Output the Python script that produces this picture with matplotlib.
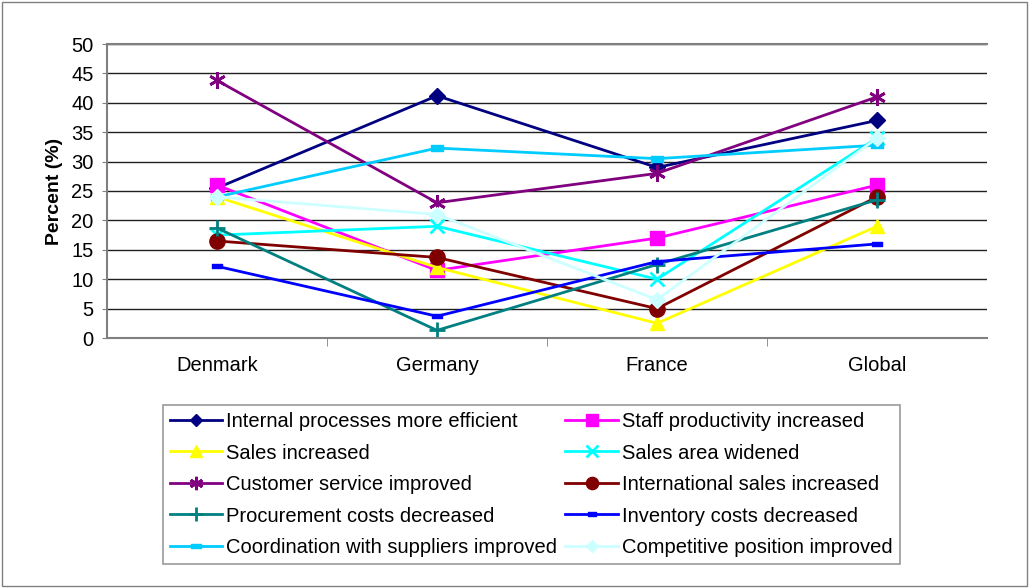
import numpy as np
import matplotlib.pyplot as plt
from matplotlib.patches import Rectangle
from matplotlib.path import Path

plt.rcParams['font.family'] = ['Liberation Sans', 'DejaVu Sans']

countries = ['Denmark', 'Germany', 'France', 'Global']

internal = [25.5, 41.2, 29.0, 37.0]
staff = [26.0, 11.5, 17.0, 26.0]
sales = [24.0, 12.0, 2.5, 19.0]
area = [17.5, 19.0, 10.0, 34.0]
customer = [43.8, 23.0, 28.0, 41.0]
international = [16.5, 13.7, 5.0, 24.0]
procurement = [18.7, 1.3, 12.5, 23.5]
inventory = [12.2, 3.7, 13.0, 16.0]
coordination = [24.0, 32.3, 30.5, 32.8]
competitive = [24.0, 21.0, 6.5, 34.0]

# flat rectangle marker like the Excel "dash" marker
dash = Path([(-1, -0.45), (1, -0.45), (1, 0.45), (-1, 0.45), (-1, -0.45)], closed=True)

series = [
    ('Internal processes more efficient', internal, '#000080', 'D', 8),
    ('Staff productivity increased', staff, '#FF00FF', 's', 10),
    ('Sales increased', sales, '#FFFF00', '^', 10),
    ('Sales area widened', area, '#00FFFF', 'x', 10),
    ('Customer service improved', customer, '#800080', (6, 2, 0), 12),
    ('International sales increased', international, '#800000', 'o', 11),
    ('Procurement costs decreased', procurement, '#008080', '+', 12),
    ('Inventory costs decreased', inventory, '#0000FF', dash, 7),
    ('Coordination with suppliers improved', coordination, '#00CCFF', dash, 9),
    ('Competitive position improved', competitive, '#CCFFFF', 'D', 8),
]

fig = plt.figure(figsize=(10.31, 5.88), dpi=100)
fig.patches.append(Rectangle((0.002, 0.004), 0.994, 0.993, transform=fig.transFigure,
                             fill=False, edgecolor='#808080', linewidth=1))
ax = fig.add_axes([107 / 1031, 1 - 338 / 588, 880 / 1031, 294 / 588])

x = np.arange(len(countries))
handles = []
for name, vals, col, mk, ms in series:
    kw = {}
    if isinstance(mk, (str, tuple)) and mk in ('x', '+', (6, 2, 0)):
        kw = dict(markeredgewidth=2)
    h, = ax.plot(x, vals, color=col, linewidth=2, marker=mk, markersize=ms,
                 label=name, markerfacecolor=col, markeredgecolor=col, **kw)
    handles.append(h)

ax.set_xlim(-0.5, 3.5)
ax.set_ylim(0, 50)
ax.set_yticks(np.arange(0, 51, 5))
ax.set_xticks(x)
ax.set_xticklabels(countries)
ax.set_xticks([0.5, 1.5, 2.5], minor=True)
ax.tick_params(axis='x', which='major', length=0, pad=13, labelsize=14.5)
ax.tick_params(axis='x', which='minor', length=6, color='#808080')
ax.tick_params(axis='y', labelsize=14.5, length=3.6, pad=6, color='#808080')
ax.yaxis.grid(True, color='#202020', linewidth=1)
ax.set_axisbelow(True)
ax.spines['right'].set_visible(False)
for s in ['left', 'bottom', 'top']:
    ax.spines[s].set_color('#808080')
    ax.spines[s].set_linewidth(1.5)
ax.set_ylabel('Percent (%)', fontsize=14, fontweight='bold', labelpad=6)

# row-major order in a two column legend
order = [0, 2, 4, 6, 8, 1, 3, 5, 7, 9]
leg = fig.legend([handles[i] for i in order], [series[i][0] for i in order],
                 loc='upper left', bbox_to_anchor=(163 / 1031, 1 - 405 / 588),
                 ncol=2, fontsize=14.5, frameon=True, fancybox=False,
                 edgecolor='#808080', handlelength=2.6, handletextpad=0.2,
                 labelspacing=0.62, borderaxespad=0, columnspacing=0.4,
                 markerscale=0.8, borderpad=0.35)
leg.get_frame().set_linewidth(1.2)

fig.savefig('out.png', dpi=100)
